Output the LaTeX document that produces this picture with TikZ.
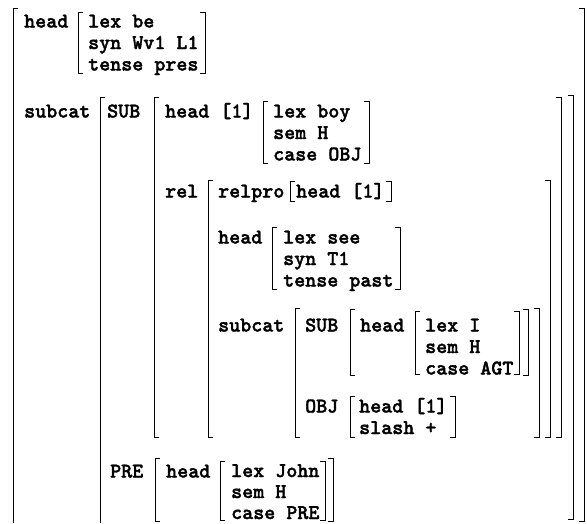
\documentclass[tikz,border=0pt]{standalone}
\usepackage{fontspec}
\newfontfamily\ttbold{lmmonolt10-bold.otf}[FakeBold=1.6]
\tikzset{
  fs/.style={font=\fontsize{21}{21.5}\selectfont\ttbold, inner sep=0pt, anchor=base west},
  brk/.style={line width=1pt},
}
% bracket with hooks: x, top, bottom
\newcommand{\lbrk}[3]{\draw[brk] (#1+5,#2) -| (#1,#3) -- (#1+5,#3);}
\newcommand{\rbrk}[3]{\draw[brk] (#1-5,#2) -| (#1,#3) -- (#1-5,#3);}
\begin{document}
\begin{tikzpicture}[x=1pt,y=-1pt]
	\useasboundingbox (0,0) rectangle (587,523);
	% outer brackets
	\draw[brk] (18,8) -| (13,523);
	\rbrk{584}{8}{521}
	% head of be
	\node[fs] (headA) at (24,27.5) {head};
	\lbrk{78}{12}{73}
	\foreach \t [count=\i from 0] in {lex be,syn Wv1 L1,tense pres}
		\node[fs] (be\i) at (88,27.5+21.5*\i) {\t};
	\rbrk{205}{12}{73}
	% subcat
	\node[fs] (subcatA) at (24,117.5) {subcat};
	\draw[brk] (105,97) -| (100,523);
	\rbrk{573}{95}{519}
	% SUB
	\node[fs] (subA) at (107,117.5) {SUB};
	\lbrk{154}{97}{437}
	\rbrk{561}{97}{437}
	\node[fs] (headB) at (165,117.5) {head [1]};
	\lbrk{263}{101}{163}
	\foreach \t [count=\i from 0] in {lex boy,sem H,case OBJ}
		\node[fs] (boy\i) at (273,117.5+21.5*\i) {\t};
	\rbrk{369}{101}{163}
	% rel
	\node[fs] (rel) at (165,197.5) {rel};
	\lbrk{208}{180}{437}
	\rbrk{550}{180}{437}
	\node[fs] (relpro) at (218,197.5) {relpro};
	\lbrk{290}{181}{201}
	\node[fs] (headC) at (296,197.5) {head [1]};
	\rbrk{391}{181}{201}
	\node[fs] (headD) at (218,243.5) {head};
	\lbrk{272}{227}{289}
	\foreach \t [count=\i from 0] in {lex see,syn T1,tense past}
		\node[fs] (see\i) at (283,243.5+21.5*\i) {\t};
	\rbrk{400}{227}{289}
	% inner subcat
	\node[fs] (subcatB) at (218,331.5) {subcat};
	\lbrk{295}{308}{437}
	\rbrk{539}{308}{437}
	\node[fs] (subB) at (305,331.5) {SUB};
	\lbrk{350}{309}{375}
	\rbrk{528}{309}{375}
	\node[fs] (headE) at (360,331.5) {head};
	\lbrk{415}{311}{374}
	\foreach \t [count=\i from 0] in {lex I,sem H,case AGT}
		\node[fs] (agt\i) at (425,331.5+21.5*\i) {\t};
	\rbrk{519}{311}{374}
	\node[fs] (obj) at (305,412.5) {OBJ};
	\lbrk{350}{396}{437}
	\foreach \t [count=\i from 0] in {head [1],slash +}
		\node[fs] (slash\i) at (359,412.5+21.5*\i) {\t};
	\rbrk{455}{396}{437}
	% PRE
	\node[fs] (pre) at (110,477.5) {PRE};
	\lbrk{155}{458}{521}
	\rbrk{333}{458}{521}
	\node[fs] (headF) at (166,477.5) {head};
	\lbrk{220}{461}{520}
	\foreach \t [count=\i from 0] in {lex John,sem H,case PRE}
		\node[fs] (john\i) at (231,477+21*\i) {\t};
	\rbrk{325}{461}{520}
\end{tikzpicture}
\end{document}
